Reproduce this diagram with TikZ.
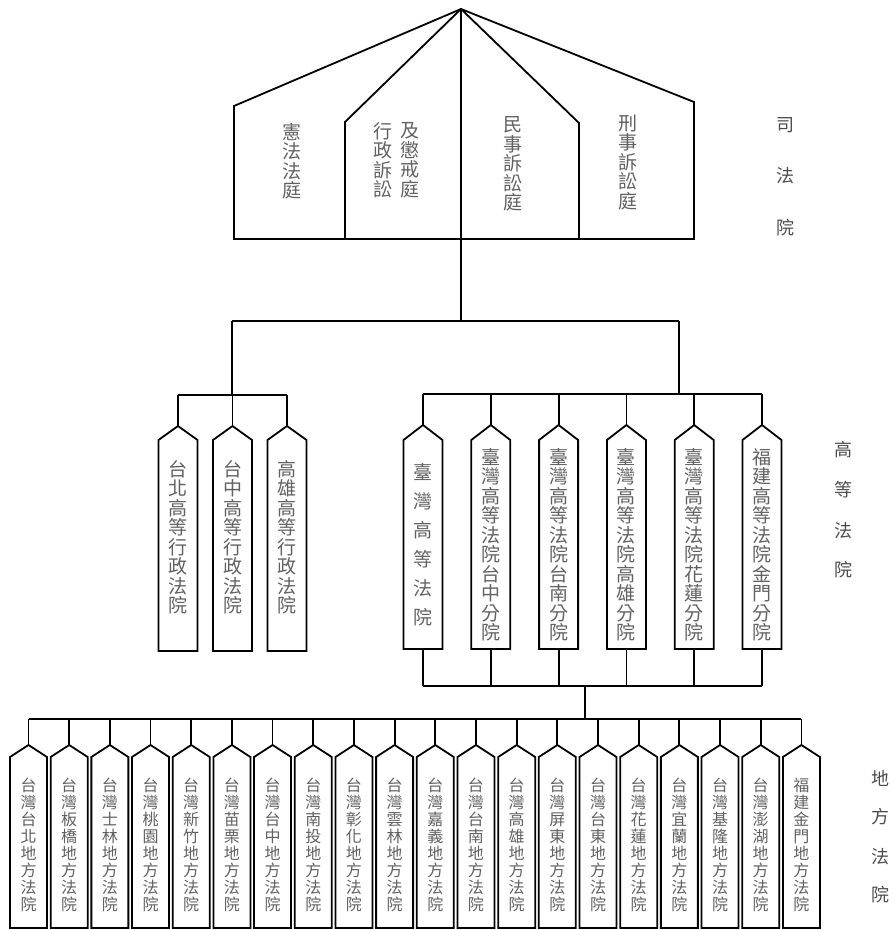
\documentclass[tikz,border=0pt]{standalone}
\usepackage{fontspec}
\setmainfont{Noto Sans CJK TC}
\definecolor{boxtext}{gray}{0.38}
\definecolor{sidetext}{gray}{0.30}
\tikzset{
  ln/.style={line width=1.8pt, line join=miter},
  body/.style={minimum width=#1, inner sep=0pt, outer sep=0pt, anchor=north},
  bigtxt/.style={align=center, text=boxtext, inner sep=0pt, font=\fontsize{19}{19.5}\selectfont},
  wtxt/.style={align=center, text=boxtext, inner sep=0pt, font=\fontsize{19}{29}\selectfont},
  smalltxt/.style={align=center, text=boxtext, inner sep=0pt, font=\fontsize{16}{17.1}\selectfont},
  sidelbl/.style={text=sidetext, inner sep=0pt, font=\fontsize{18}{18}\selectfont}
}
\begin{document}
\begin{tikzpicture}[x=1pt,y=-1pt]
\useasboundingbox (0,0) rectangle (895,930);
\fill[white] (0,0) rectangle (895,930);

% ---------- top: Judicial Yuan ----------
\coordinate (apex) at (461,9);
\coordinate (c1) at (234,106);
\coordinate (c2) at (345,122);
\coordinate (c3) at (579,123);
\coordinate (c4) at (694,102);
\coordinate (f1) at (234,239);
\coordinate (f2) at (345,239);
\coordinate (f3) at (579,239);
\coordinate (f4) at (694,239);
\coordinate (j1) at (461,321);
\draw[ln] (apex) -- (c1) -- (f1) -- (f4) -- (c4) -- cycle;
\draw[ln] (apex) -- (c2) -- (f2);
\draw[ln] (apex) -- (c3) -- (f3);
\draw[ln] (apex) -- (j1);

\node[bigtxt] (t1) at (292,161) {憲\\法\\法\\庭};
\node[bigtxt] (t2) at (383,160) {行\\政\\訴\\訟};
\node[bigtxt] (t3) at (410,160) {及\\懲\\戒\\庭};
\node[bigtxt] (t4) at (513,164) {民\\事\\訴\\訟\\庭};
\node[bigtxt] (t5) at (628,162) {刑\\事\\訴\\訟\\庭};

\node[sidelbl] (s1) at (785,125) {司};
\node[sidelbl] (s2) at (785,176) {法};
\node[sidelbl] (s3) at (785,228) {院};

% ---------- second level connectors ----------
\coordinate (lj) at (232,321);
\coordinate (rj) at (679,321);
\coordinate (lbar) at (232,395);
\coordinate (rbar) at (679,394);
\draw[ln] (lj) -- (rj);
\draw[ln] (lj) -- (lbar);
\draw[ln] (rj) -- (rbar);

% ---------- left group: administrative high courts ----------
\foreach \lbl [count=\i] in {台\\北\\高\\等\\行\\政\\法\\院, 台\\中\\高\\等\\行\\政\\法\\院, 高\\雄\\高\\等\\行\\政\\法\\院}{
  \pgfmathsetmacro\cx{178+54.5*(\i-1)}
  \node[body=39pt, minimum height=211pt] (a\i) at (\cx,440) {};
  \coordinate (at\i) at ([yshift=14pt]a\i.north);
  \draw[ln] (a\i.south west) -- (a\i.north west) -- (at\i) -- (a\i.north east) -- (a\i.south east) -- cycle;
  \node[bigtxt] (al\i) at (\cx,537) {\lbl};
  \draw[ln] (at\i) -- (at\i |- lbar);
}
\draw[ln] (at1 |- lbar) -- (at3 |- lbar);

% ---------- right group: high courts ----------
\foreach \lbl/\sty [count=\i] in {臺\\灣\\高\\等\\法\\院/wtxt, 臺\\灣\\高\\等\\法\\院\\台\\中\\分\\院/bigtxt, 臺\\灣\\高\\等\\法\\院\\台\\南\\分\\院/bigtxt, 臺\\灣\\高\\等\\法\\院\\高\\雄\\分\\院/bigtxt, 臺\\灣\\高\\等\\法\\院\\花\\蓮\\分\\院/bigtxt, 福\\建\\高\\等\\法\\院\\金\\門\\分\\院/bigtxt}{
  \pgfmathsetmacro\cx{423+67.8*(\i-1)}
  \node[body=39pt, minimum height=209pt] (h\i) at (\cx,440) {};
  \coordinate (ht\i) at ([yshift=15pt]h\i.north);
  \draw[ln] (h\i.south west) -- (h\i.north west) -- (ht\i) -- (h\i.north east) -- (h\i.south east) -- cycle;
  \node[\sty] (hl\i) at (\cx,545) {\lbl};
  \draw[ln] (ht\i) -- (ht\i |- rbar);
}
\draw[ln] (ht1 |- rbar) -- (ht6 |- rbar);
\coordinate (hbot) at (585,686);
\coordinate (dj) at (585,719);
\foreach \i in {1,...,6}{
  \draw[ln] (h\i.south) -- (h\i.south |- hbot);
}
\draw[ln] (h1.south |- hbot) -- (h6.south |- hbot);
\draw[ln] (hbot) -- (dj);

\node[sidelbl] (g1) at (843,450) {高};
\node[sidelbl] (g2) at (843,490) {等};
\node[sidelbl] (g3) at (843,531) {法};
\node[sidelbl] (g4) at (843,570) {院};

% ---------- bottom: district courts ----------
\foreach \lbl [count=\i from 0] in {台\\灣\\台\\北\\地\\方\\法\\院, 台\\灣\\板\\橋\\地\\方\\法\\院, 台\\灣\\士\\林\\地\\方\\法\\院, 台\\灣\\桃\\園\\地\\方\\法\\院, 台\\灣\\新\\竹\\地\\方\\法\\院, 台\\灣\\苗\\栗\\地\\方\\法\\院, 台\\灣\\台\\中\\地\\方\\法\\院, 台\\灣\\南\\投\\地\\方\\法\\院, 台\\灣\\彰\\化\\地\\方\\法\\院, 台\\灣\\雲\\林\\地\\方\\法\\院, 台\\灣\\嘉\\義\\地\\方\\法\\院, 台\\灣\\台\\南\\地\\方\\法\\院, 台\\灣\\高\\雄\\地\\方\\法\\院, 台\\灣\\屏\\東\\地\\方\\法\\院, 台\\灣\\台\\東\\地\\方\\法\\院, 台\\灣\\花\\蓮\\地\\方\\法\\院, 台\\灣\\宜\\蘭\\地\\方\\法\\院, 台\\灣\\基\\隆\\地\\方\\法\\院, 台\\灣\\澎\\湖\\地\\方\\法\\院, 福\\建\\金\\門\\地\\方\\法\\院}{
  \pgfmathsetmacro\cx{28.5+40.68*\i}
  \node[body=37pt, minimum height=171pt] (d\i) at (\cx,757) {};
  \coordinate (dt\i) at ([yshift=12pt]d\i.north);
  \draw[ln] (d\i.south west) -- (d\i.north west) -- (dt\i) -- (d\i.north east) -- (d\i.south east) -- cycle;
  \node[smalltxt] (dl\i) at (\cx,845) {\lbl};
  \draw[ln] (dt\i) -- (dt\i |- dj);
}
\draw[ln] (dt0 |- dj) -- (dt19 |- dj);

\node[sidelbl] (k1) at (880,778) {地};
\node[sidelbl] (k2) at (880,817) {方};
\node[sidelbl] (k3) at (880,857) {法};
\node[sidelbl] (k4) at (880,895) {院};
\end{tikzpicture}
\end{document}
